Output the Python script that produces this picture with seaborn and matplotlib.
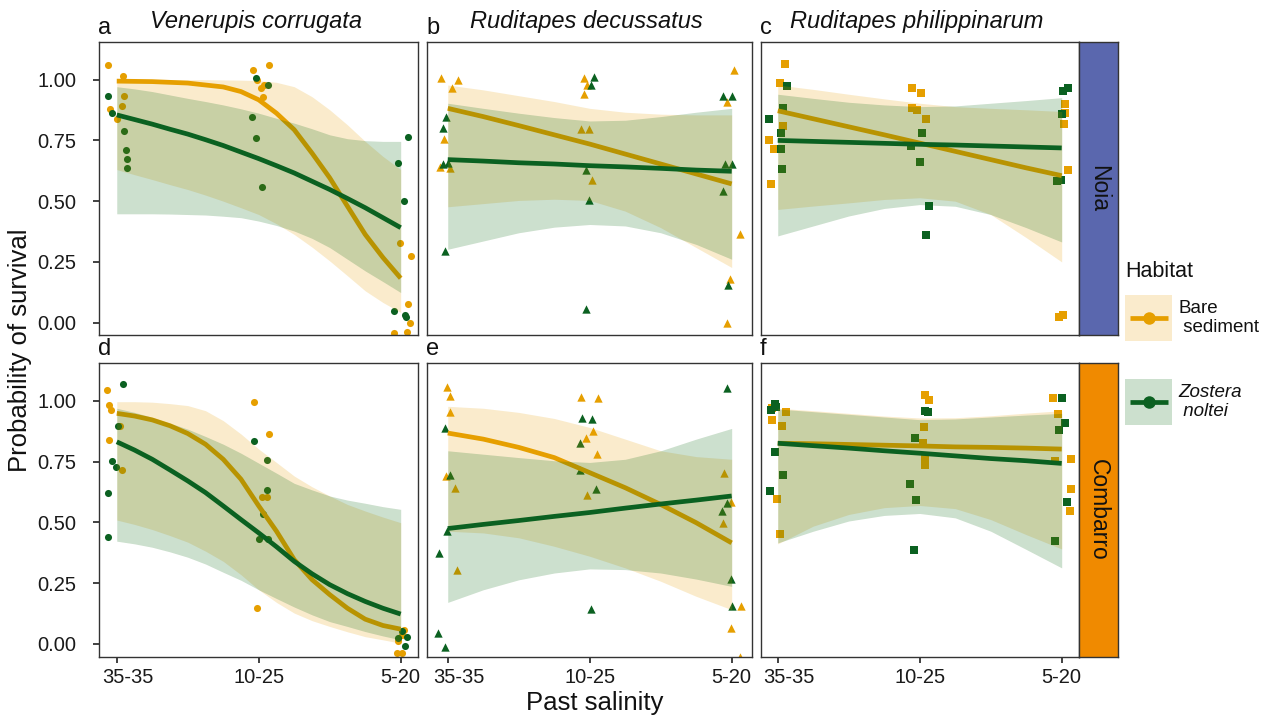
import matplotlib
matplotlib.use("Agg")
import matplotlib.pyplot as plt
from matplotlib.patches import Rectangle
from matplotlib.transforms import ScaledTranslation
import seaborn as sns
import pandas as pd

sns.set_theme(style="ticks")
plt.rcParams["font.family"] = ["Liberation Sans", "DejaVu Sans"]

# ── data ──────────────────────────────────────────────────
SALINITY = ["35-35", "10-25", "5-20"]
SPECIES = ["Venerupis corrugata", "Ruditapes decussatus", "Ruditapes philippinarum"]
SITES = ["Noia", "Combarro"]
LETTERS = ["a", "b", "c", "d", "e", "f"]
CURVE_X = [1.0, 1.25, 1.5, 1.75, 2.0, 2.25, 2.5, 2.75, 3.0]
CURVE_X_FINE = [1.0, 1.125, 1.25, 1.375, 1.5, 1.625, 1.75, 1.875, 2.0,
                2.125, 2.25, 2.375, 2.5, 2.625, 2.75, 2.875, 3.0]

PANEL_A = dict(
    bare_x=[0.941, 1.042, 1.049, 0.953, 1.037, 1.000, 1.958, 2.075, 1.986, 2.014, 2.039, 2.032,
            2.993, 3.070, 3.054, 3.066, 2.953, 3.042],
    bare_y=[1.061, 1.015, 0.932, 0.880, 0.891, 0.837, 1.041, 1.061, 0.999, 0.967, 0.980, 0.929,
            0.329, 0.273, 0.077, 0.000, -0.044, -0.037],
    zos_x=[0.941, 0.965, 1.049, 1.063, 1.073, 1.073, 1.981, 2.063, 1.955, 1.979, 2.025,
           3.049, 2.981, 3.023, 2.955, 3.032, 3.037],
    zos_y=[0.933, 0.861, 0.788, 0.710, 0.672, 0.635, 1.007, 0.977, 0.847, 0.760, 0.557,
           0.764, 0.658, 0.501, 0.048, 0.031, 0.023],
    bare_fit=[0.994, 0.993, 0.992, 0.989, 0.986, 0.978, 0.970, 0.951, 0.917,
              0.862, 0.794, 0.698, 0.596, 0.479, 0.363, 0.268, 0.183],
    bare_lo=[0.630, 0.609, 0.589, 0.568, 0.548, 0.525, 0.500, 0.473, 0.445,
             0.407, 0.363, 0.311, 0.254, 0.193, 0.131, 0.083, 0.042],
    bare_hi=[1.000, 1.000, 1.000, 1.000, 1.000, 1.000, 0.999, 0.998, 0.996,
             0.989, 0.971, 0.930, 0.876, 0.814, 0.746, 0.684, 0.630],
    zos_fit=[0.855, 0.836, 0.817, 0.796, 0.776, 0.753, 0.729, 0.702, 0.675,
             0.646, 0.616, 0.582, 0.548, 0.511, 0.473, 0.432, 0.391],
    zos_lo=[0.448, 0.448, 0.448, 0.447, 0.445, 0.443, 0.438, 0.432, 0.418,
            0.400, 0.377, 0.347, 0.309, 0.261, 0.213, 0.169, 0.124],
    zos_hi=[0.971, 0.962, 0.951, 0.937, 0.923, 0.910, 0.896, 0.880, 0.862,
            0.841, 0.821, 0.798, 0.773, 0.757, 0.749, 0.746, 0.746],
)

PANEL_B = dict(
    bare_x=[0.951, 1.070, 1.028, 0.972, 0.946, 1.016, 1.960, 1.983, 1.958, 1.941, 1.993, 2.014,
            3.014, 2.967, 3.061, 2.986, 2.967],
    bare_y=[1.008, 0.999, 0.967, 0.757, 0.641, 0.637, 1.005, 0.978, 0.940, 0.798, 0.798, 0.589,
            1.038, 0.907, 0.363, 0.179, -0.001],
    zos_x=[0.986, 0.965, 0.969, 1.000, 0.981, 2.031, 2.007, 1.977, 1.995, 1.977,
           2.941, 3.000, 2.953, 3.005, 2.941, 2.977],
    zos_y=[0.847, 0.803, 0.653, 0.657, 0.295, 1.011, 0.978, 0.630, 0.504, 0.056,
           0.932, 0.932, 0.653, 0.653, 0.541, 0.156],
    bare_fit=[0.882, 0.848, 0.811, 0.773, 0.735, 0.694, 0.653, 0.612, 0.571],
    bare_lo=[0.477, 0.490, 0.503, 0.508, 0.503, 0.459, 0.391, 0.309, 0.227],
    bare_hi=[0.978, 0.958, 0.934, 0.910, 0.882, 0.866, 0.858, 0.855, 0.855],
    zos_fit=[0.671, 0.665, 0.658, 0.653, 0.646, 0.641, 0.635, 0.628, 0.623],
    zos_lo=[0.302, 0.336, 0.370, 0.393, 0.404, 0.398, 0.370, 0.322, 0.261],
    zos_hi=[0.903, 0.882, 0.862, 0.844, 0.830, 0.833, 0.848, 0.866, 0.882],
)

PANEL_C = dict(
    bare_x=[1.054, 1.019, 1.040, 0.941, 0.977, 0.955, 1.948, 2.012, 1.948, 1.984, 2.047,
            3.026, 3.026, 3.019, 3.047, 3.012, 2.984],
    bare_y=[1.064, 0.986, 0.810, 0.753, 0.716, 0.572, 0.966, 0.945, 0.884, 0.876, 0.839,
            0.900, 0.863, 0.818, 0.630, 0.031, 0.023],
    zos_x=[1.068, 1.040, 0.941, 1.026, 1.023, 1.033, 2.019, 1.941, 2.005, 2.068, 2.047,
           3.012, 3.047, 3.005, 2.965, 2.995],
    zos_y=[0.974, 0.884, 0.839, 0.781, 0.716, 0.634, 0.781, 0.725, 0.662, 0.482, 0.359,
           0.953, 0.966, 0.859, 0.585, 0.589],
    bare_fit=[0.872, 0.839, 0.806, 0.773, 0.739, 0.705, 0.671, 0.637, 0.605],
    bare_lo=[0.466, 0.480, 0.493, 0.507, 0.514, 0.500, 0.445, 0.350, 0.250],
    bare_hi=[0.978, 0.960, 0.940, 0.921, 0.903, 0.889, 0.882, 0.876, 0.869],
    zos_fit=[0.750, 0.746, 0.742, 0.738, 0.734, 0.731, 0.727, 0.723, 0.719],
    zos_lo=[0.357, 0.398, 0.439, 0.470, 0.486, 0.479, 0.445, 0.391, 0.332],
    zos_hi=[0.940, 0.923, 0.907, 0.896, 0.889, 0.892, 0.903, 0.914, 0.926],
)

PANEL_D = dict(
    bare_x=[0.934, 0.944, 0.962, 1.023, 0.948, 1.038, 1.967, 2.070, 2.026, 2.056, 1.991,
            3.026, 2.979, 2.972, 3.012, 3.007],
    bare_y=[1.044, 0.985, 0.963, 0.897, 0.839, 0.716, 0.996, 0.865, 0.605, 0.605, 0.147,
            0.057, 0.012, -0.036, -0.036, 0.037],
    zos_x=[1.045, 1.007, 0.965, 0.995, 0.937, 0.941, 1.965, 2.056, 2.056, 2.031, 2.002, 2.068,
           3.007, 2.979, 3.042, 3.028],
    zos_y=[1.069, 0.895, 0.751, 0.727, 0.623, 0.442, 0.835, 0.756, 0.635, 0.533, 0.433, 0.433,
           0.055, 0.023, 0.029, -0.008],
    bare_fit=[0.949, 0.938, 0.922, 0.898, 0.866, 0.822, 0.760, 0.678, 0.568,
              0.464, 0.347, 0.265, 0.203, 0.147, 0.102, 0.076, 0.061],
    bare_lo=[0.510, 0.492, 0.471, 0.446, 0.419, 0.382, 0.340, 0.285, 0.223,
             0.171, 0.127, 0.096, 0.072, 0.050, 0.030, 0.017, 0.003],
    bare_hi=[0.997, 0.997, 0.995, 0.989, 0.981, 0.960, 0.919, 0.864, 0.802,
             0.747, 0.691, 0.647, 0.609, 0.574, 0.547, 0.522, 0.499],
    zos_fit=[0.832, 0.798, 0.760, 0.716, 0.671, 0.623, 0.568, 0.512, 0.457,
             0.400, 0.340, 0.289, 0.244, 0.207, 0.175, 0.147, 0.123],
    zos_lo=[0.423, 0.412, 0.398, 0.379, 0.357, 0.329, 0.295, 0.262, 0.223,
            0.187, 0.152, 0.120, 0.092, 0.072, 0.051, 0.033, 0.017],
    zos_hi=[0.970, 0.953, 0.933, 0.909, 0.884, 0.854, 0.822, 0.785, 0.744,
            0.703, 0.661, 0.634, 0.609, 0.592, 0.579, 0.565, 0.554],
)

PANEL_E = dict(
    bare_x=[0.998, 1.019, 1.019, 0.986, 1.049, 1.068, 1.941, 2.061, 2.021, 1.977, 2.054, 1.981,
            2.948, 2.993, 2.941, 3.063, 2.998, 3.059],
    bare_y=[1.058, 1.022, 0.956, 0.693, 0.641, 0.306, 1.018, 1.014, 0.875, 0.846, 0.780, 0.612,
            0.705, 0.584, 0.499, 0.158, 0.066, -0.052],
    zos_x=[0.981, 1.016, 0.993, 0.941, 0.934, 0.979, 1.944, 2.014, 1.934, 1.934, 2.047, 2.007,
           2.969, 2.967, 2.934, 2.993, 3.002],
    zos_y=[0.887, 0.694, 0.466, 0.376, 0.047, -0.014, 0.930, 0.926, 0.826, 0.716, 0.636, 0.143,
           1.055, 0.579, 0.547, 0.269, 0.158],
    bare_fit=[0.868, 0.843, 0.809, 0.767, 0.705, 0.643, 0.574, 0.499, 0.416],
    bare_lo=[0.464, 0.457, 0.437, 0.402, 0.361, 0.313, 0.258, 0.196, 0.141],
    bare_hi=[0.978, 0.970, 0.953, 0.928, 0.891, 0.843, 0.795, 0.771, 0.760],
    zos_fit=[0.475, 0.492, 0.508, 0.525, 0.541, 0.559, 0.576, 0.592, 0.609],
    zos_lo=[0.171, 0.223, 0.264, 0.292, 0.309, 0.306, 0.292, 0.267, 0.237],
    zos_hi=[0.795, 0.781, 0.767, 0.754, 0.747, 0.760, 0.795, 0.843, 0.887],
)

PANEL_F = dict(
    bare_x=[0.958, 1.061, 0.962, 1.033, 0.998, 1.019, 2.040, 2.068, 2.033, 2.026, 2.040, 2.040,
            2.941, 2.977, 2.955, 3.068, 3.068, 3.061],
    bare_y=[0.971, 0.953, 0.920, 0.899, 0.598, 0.453, 1.025, 1.003, 0.891, 0.829, 0.760, 0.735,
            1.011, 0.945, 0.752, 0.763, 0.639, 0.548],
    zos_x=[0.984, 0.955, 0.988, 0.984, 1.040, 0.948, 2.040, 2.061, 1.969, 1.934, 1.977, 1.962,
           3.005, 3.026, 2.984, 3.040, 2.951],
    zos_y=[0.988, 0.963, 0.974, 0.792, 0.697, 0.631, 0.957, 0.953, 0.846, 0.660, 0.594, 0.387,
           1.011, 0.908, 0.879, 0.585, 0.424],
    bare_fit=[0.826, 0.824, 0.821, 0.818, 0.815, 0.811, 0.809, 0.806, 0.802],
    bare_lo=[0.412, 0.485, 0.533, 0.561, 0.570, 0.557, 0.512, 0.450, 0.391],
    bare_hi=[0.970, 0.960, 0.949, 0.938, 0.930, 0.931, 0.939, 0.950, 0.960],
    zos_fit=[0.826, 0.816, 0.806, 0.795, 0.785, 0.774, 0.763, 0.754, 0.743],
    zos_lo=[0.416, 0.464, 0.506, 0.529, 0.537, 0.519, 0.464, 0.389, 0.313],
    zos_hi=[0.967, 0.956, 0.945, 0.934, 0.923, 0.926, 0.934, 0.942, 0.949],
)

PANELS = [PANEL_A, PANEL_B, PANEL_C, PANEL_D, PANEL_E, PANEL_F]
PANEL_CURVE_X = [CURVE_X_FINE, CURVE_X, CURVE_X, CURVE_X_FINE, CURVE_X, CURVE_X]

# ── style ─────────────────────────────────────────────────
ORANGE = "#E69F00"
GREEN = "#0B6121"
GREEN_FILL = "#00640A"
SITE_COLORS = ["#5A67AE", "#F08A00"]
EDGE = "#333333"
MARKERS = ["o", "^", "s"]
SIZES = [26, 36, 28]

W, H = 1272, 717
COL_LEFT = [99.3, 427.3, 760.7]
COL_W = [319.0, 324.4, 318.6]
ROW_TOP = [42.0, 363.3]
ROW_H = 293.3
XLIMS = [(0.877, 3.124), (0.856, 3.141), (0.880, 3.124)]
YLIM = (-0.052, 1.155)


def rect(left, top, w, h):
    return [left / W, 1 - (top + h) / H, w / W, h / H]


fig = plt.figure(figsize=(12.72, 7.17), dpi=100)
# the first category label sits a bit right of its tick in the original
label_shift = ScaledTranslation(11 / 100, 0, fig.dpi_scale_trans)

for i, p in enumerate(PANELS):
    r, c = divmod(i, 3)
    cx = PANEL_CURVE_X[i]
    ax = fig.add_axes(rect(COL_LEFT[c], ROW_TOP[r], COL_W[c], ROW_H))

    bare = pd.DataFrame({"x": p["bare_x"], "y": p["bare_y"]})
    zos = pd.DataFrame({"x": p["zos_x"], "y": p["zos_y"]})
    sns.scatterplot(data=bare, x="x", y="y", color=ORANGE, marker=MARKERS[c],
                    s=SIZES[c], linewidth=0, ax=ax, zorder=1, legend=False)
    sns.scatterplot(data=zos, x="x", y="y", color=GREEN, marker=MARKERS[c],
                    s=SIZES[c], linewidth=0, ax=ax, zorder=1, legend=False)

    # draw order as in the original: bare ribbon, bare line, zostera ribbon, zostera line
    ax.fill_between(cx, p["bare_lo"], p["bare_hi"], color=ORANGE,
                    alpha=0.2, lw=0, zorder=2)
    sns.lineplot(x=cx, y=p["bare_fit"], color=ORANGE, lw=3.4, ax=ax,
                 zorder=3, errorbar=None, legend=False, solid_capstyle="butt")
    ax.fill_between(cx, p["zos_lo"], p["zos_hi"], color=GREEN_FILL,
                    alpha=0.2, lw=0, zorder=4)
    sns.lineplot(x=cx, y=p["zos_fit"], color=GREEN, lw=3.4, ax=ax,
                 zorder=5, errorbar=None, legend=False, solid_capstyle="butt")

    ax.set_xlim(*XLIMS[c])
    ax.set_ylim(*YLIM)
    ax.set_xlabel("")
    ax.set_ylabel("")
    ax.set_xticks([1, 2, 3])
    ax.set_yticks([0, 0.25, 0.5, 0.75, 1.0])
    ax.set_xticklabels(SALINITY)
    ax.set_yticklabels(["0.00", "0.25", "0.50", "0.75", "1.00"])
    ax.tick_params(length=4.5, width=1.3, color=EDGE, labelsize=14.5,
                   labelcolor="#1a1a1a")
    ax.tick_params(axis="x", pad=4)
    ax.tick_params(axis="y", pad=12)
    if r == 0:
        ax.tick_params(axis="x", length=0, labelbottom=False)
    else:
        lab0 = ax.get_xticklabels()[0]
        lab0.set_transform(lab0.get_transform() + label_shift)
    if c > 0:
        ax.tick_params(axis="y", length=0, labelleft=False)
    for s in ax.spines.values():
        s.set_color(EDGE)
        s.set_linewidth(1.0)

    # panel letter and species title
    fig.text((COL_LEFT[c] - 1) / W, 1 - (ROW_TOP[r] - 8) / H, LETTERS[i],
             ha="left", va="baseline", fontsize=17, color="#111111")
    if r == 0:
        fig.text((COL_LEFT[c] + COL_W[c] / 2 - 3) / W, 1 - 28 / H, SPECIES[c],
                 ha="center", va="baseline", fontsize=17, style="italic",
                 color="#111111")

# site strips on the right
for r, site in enumerate(SITES):
    sax = fig.add_axes(rect(1079.3, ROW_TOP[r], 38.4, ROW_H))
    sax.set_facecolor(SITE_COLORS[r])
    sax.set_xticks([])
    sax.set_yticks([])
    for s in sax.spines.values():
        s.set_color(EDGE)
        s.set_linewidth(1.0)
    sax.text(0.5, 0.5, site, rotation=270, ha="center", va="center",
             fontsize=16.5, color="#111111", transform=sax.transAxes)

# axis titles
fig.text(595 / W, 1 - 703 / H, "Past salinity", ha="center", va="center",
         fontsize=18.5, color="#111111")
fig.text(20 / W, 1 - 350 / H, "Probability of survival", ha="center",
         va="center", rotation=90, fontsize=18.5, color="#111111")

# legend
lax = fig.add_axes(rect(1120, 250, 152, 190))
lax.set_xlim(1120, 1272)
lax.set_ylim(440, 250)
lax.axis("off")
lax.text(1125, 272, "Habitat", ha="left", va="center", fontsize=15.5,
         color="#111111")
for col, fill, lab, sty, yc in [
        (ORANGE, ORANGE, "Bare\n sediment", "normal", 318),
        (GREEN, GREEN_FILL, "Zostera\n noltei", "italic", 402)]:
    lax.add_patch(Rectangle((1125, yc - 23), 47, 46, facecolor=fill,
                            alpha=0.2, lw=0))
    lax.plot([1130, 1168], [yc, yc], color=col, lw=3.4, solid_capstyle="butt")
    lax.plot([1149], [yc], marker="o", ms=9, color=col, mew=0)
    lax.text(1178, yc, lab, ha="left", va="center", fontsize=13.5,
             style=sty, linespacing=1.15, color="#111111")

plt.savefig("out.png", dpi=100)
plt.close()
